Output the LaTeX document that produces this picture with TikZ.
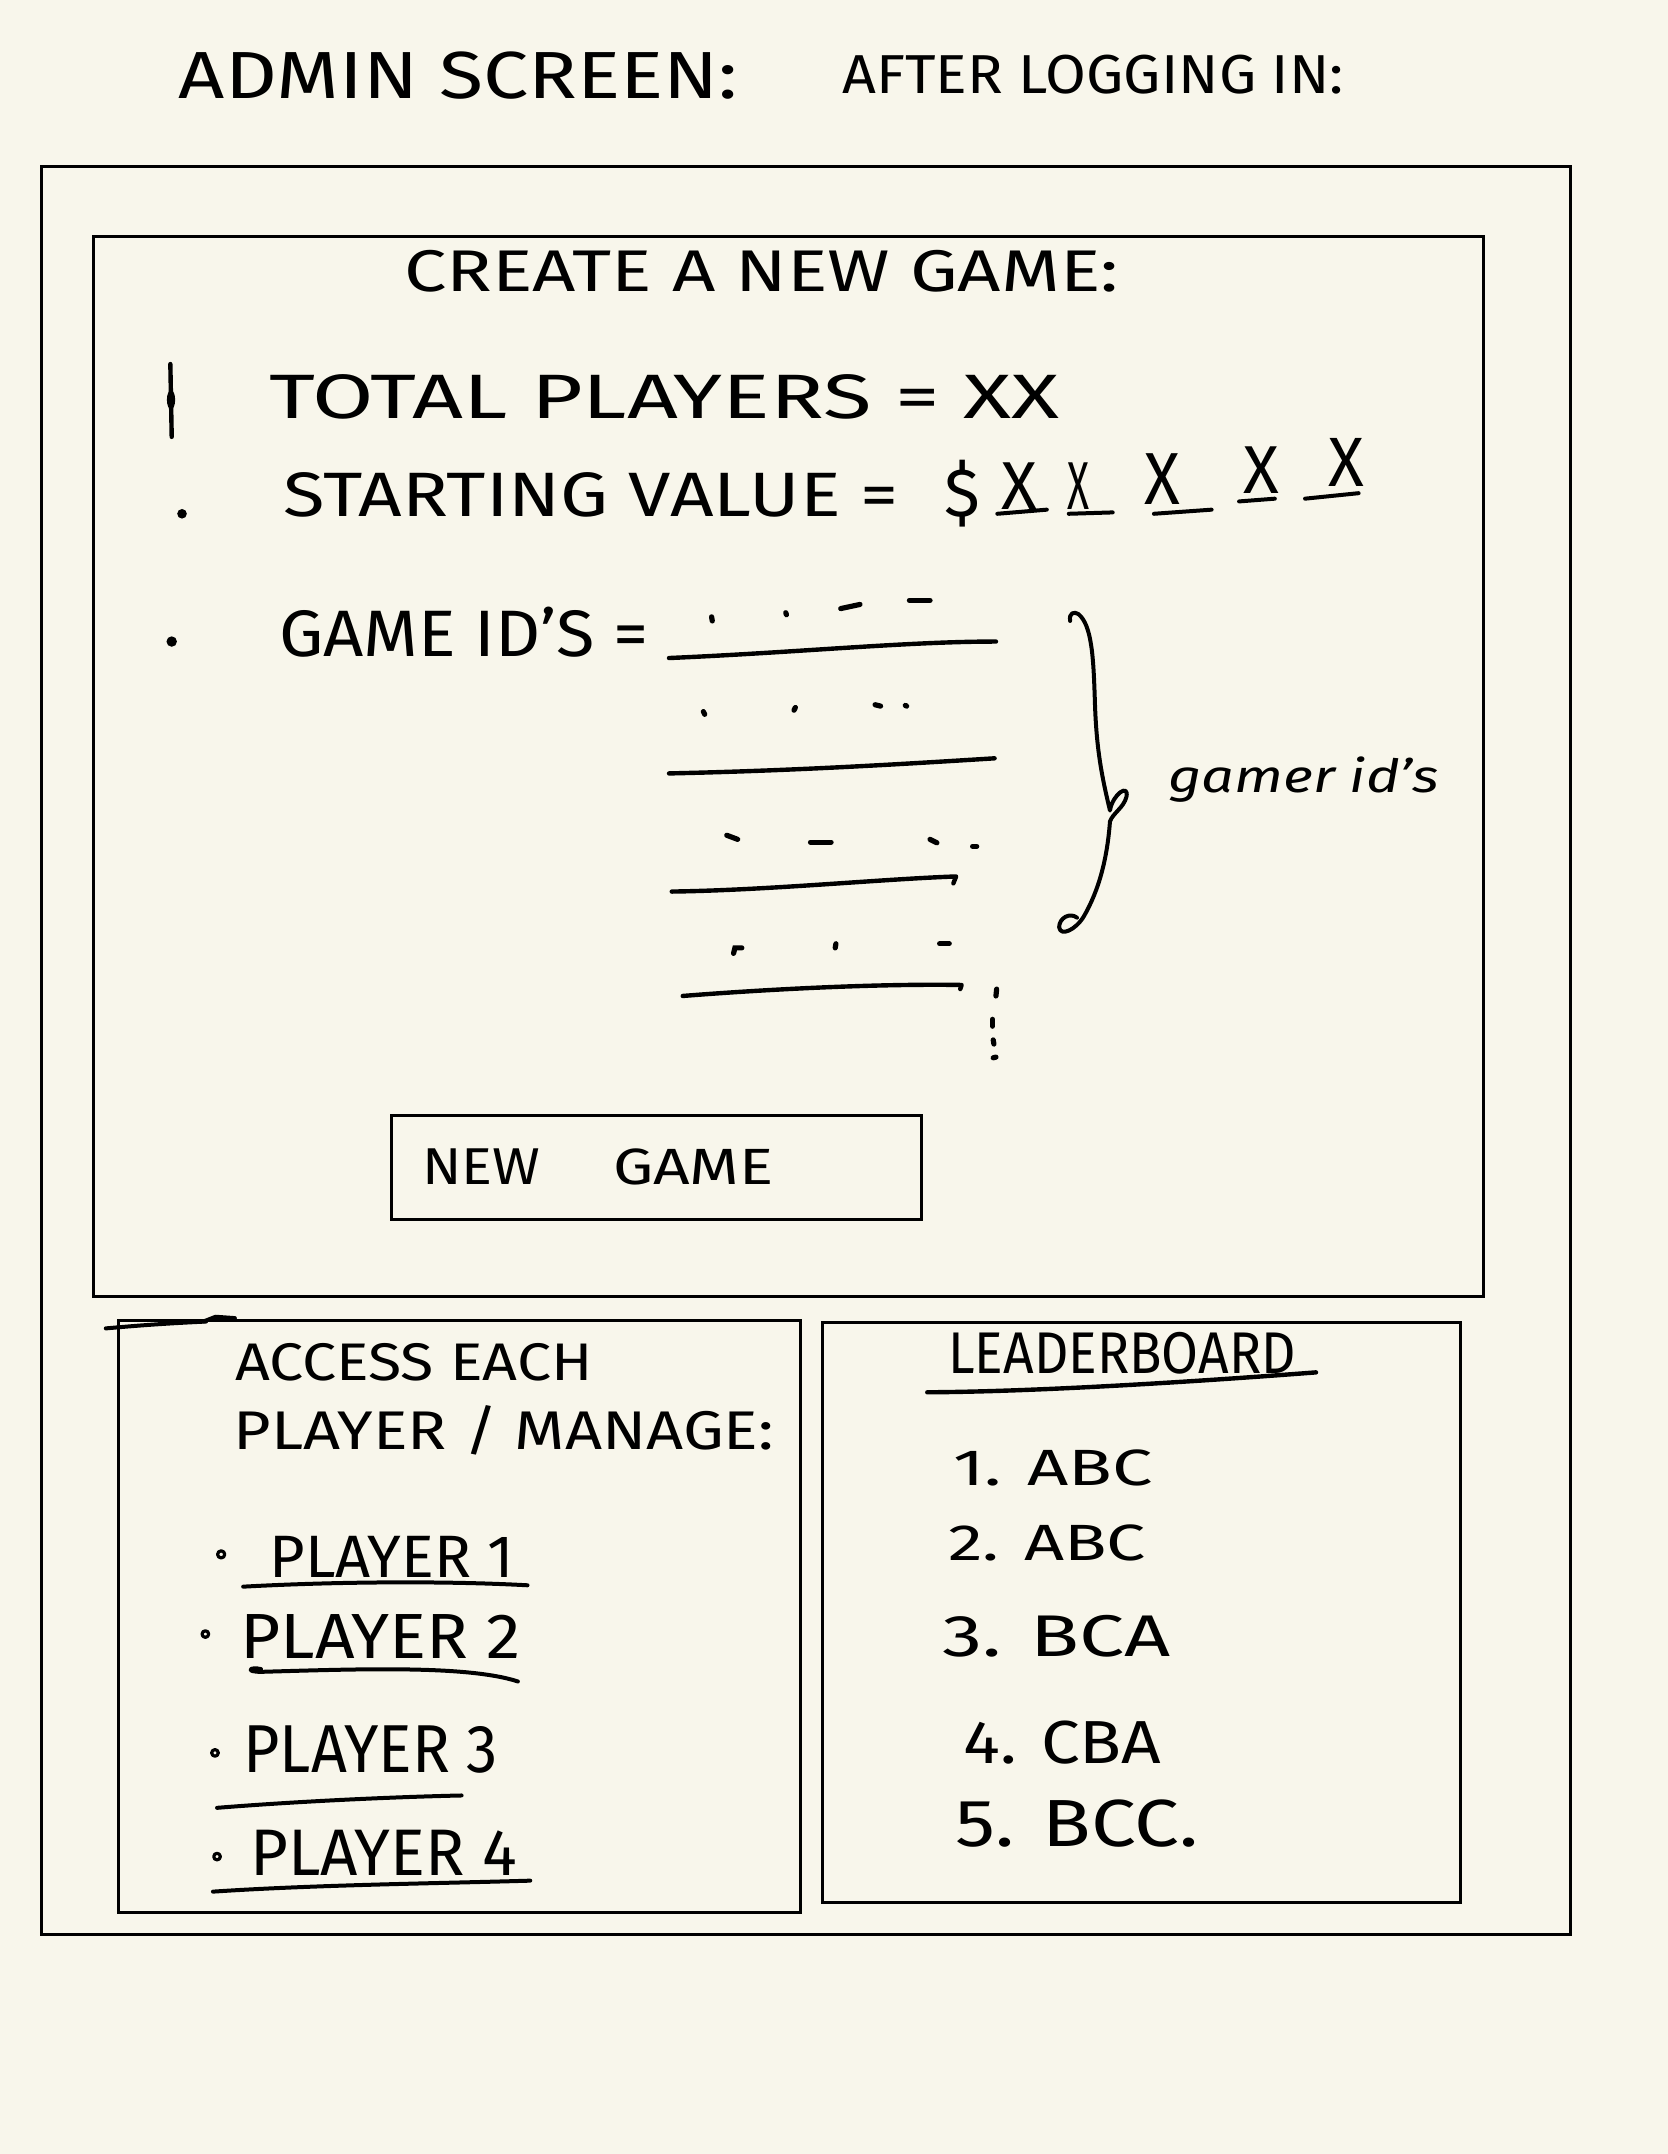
\documentclass[tikz,border=0pt]{standalone}
\usepackage{fontspec}
\setmainfont{Fira Sans}
\usepackage{graphicx}
\newlength\upx \setlength\upx{0.6872pt}
\newcommand\hwt[3]{\resizebox{#1\upx}{#2\upx}{#3}}
\definecolor{paper}{HTML}{F8F6EB}
\begin{document}
\begin{tikzpicture}[x=0.6872pt,y=-0.6872pt,
  box/.style={draw=black, line width=1.5pt},
  ink/.style={draw=black, line width=2pt, line cap=round, line join=round},
  tick/.style={draw=black, line width=2.6pt, line cap=round},
  txt/.style={inner sep=0pt, anchor=base west, text=black}]
\fill[paper] (0,0) rectangle (1214,1568);
\useasboundingbox (0,0) rectangle (1214,1568);

% titles
\node[txt] (admin) at (130,72) {\hwt{407}{34}{ADMIN SCREEN:}};
\node[txt] (after) at (613,68) {\hwt{365}{28}{AFTER LOGGING IN:}};

% boxes
\draw[box] (30,121) rectangle (1143,1408);
\draw[box] (68,172) rectangle (1080,944);
\draw[box] (285,812) rectangle (671,888);
\draw[box] (86,961) rectangle (583,1392);
\draw[box] (599,963) rectangle (1063,1385);

% create a new game
\node[txt] (create) at (294,212) {\hwt{520}{30}{CREATE A NEW GAME:}};

\draw[ink, line width=2.2pt] (124,265) -- (125,318);
\fill (124.5,291) ellipse (3 and 7);
\node[txt] (total) at (196,305) {\hwt{575}{32}{TOTAL PLAYERS = XX}};

\fill (132.5,374) circle (3.5);
\node[txt] (start) at (206,376) {\hwt{448}{32}{STARTING VALUE =}};
\node[txt] (dollar) at (687,376) {\hwt{26}{41}{\$}};
\node[txt] (xa) at (729,371) {\hwt{26}{34}{X}};
\node[txt] (xb) at (777,371) {\hwt{16}{34}{X}};
\node[txt] (xc) at (833,367) {\hwt{26}{37}{X}};
\node[txt] (xd) at (905,359) {\hwt{26}{34}{X}};
\node[txt] (xe) at (967,354) {\hwt{26}{35}{X}};
\draw[ink] (726,374) -- (762,371);
\draw[ink] (778,374) -- (810,373);
\draw[ink] (840,374) -- (882,371);
\draw[ink] (902,365) -- (928,363);
\draw[ink] (950,363) -- (989,359);

\fill (125,467) circle (3.8);
\node[txt] (gameid) at (203,478) {\hwt{269}{36}{GAME ID'S =}};

% id rows
\draw[tick] (518,449) -- (518.5,452);
\draw[tick] (572,446) -- (572.5,447.5);
\draw[tick] (612,443) -- (626,440);
\draw[tick] (662,437) -- (677,437);
\draw[ink, line width=2.2pt] (487,479) .. controls (580,475) and (660,467) .. (725,467);
\draw[tick] (512,518) -- (513,520);
\draw[tick] (579,515) -- (578,517);
\draw[tick] (637,513) -- (641,514);
\draw[tick] (659,513.5) -- (660,514);
\draw[ink, line width=2.2pt] (487,563) .. controls (580,561) and (660,556) .. (724,552);
\draw[tick] (529,608) -- (537,611);
\draw[tick] (590,613) -- (605,613);
\draw[tick] (677,611) -- (682,613.5);
\draw[tick] (708,616) -- (711,616);
\draw[ink, line width=2.2pt] (489,649) .. controls (560,648) and (640,640) .. (696,638) -- (694,643);
\draw[tick] (534,694) -- (535,690) -- (540,690);
\draw[tick] (608.5,687) -- (608,690);
\draw[tick] (684,687) -- (691,687);
\draw[ink, line width=2.2pt] (497,725) .. controls (560,720) and (640,716) .. (700,717) -- (699,720);
\draw[tick] (725.5,720) -- (725,725);
\draw[tick] (722.5,742) -- (722.5,747);
\draw[tick] (723,757) -- (723.5,760);
\draw[tick] (723,770) -- (725,769.5);

% brace
\draw[ink] (779,452) .. controls (778,446) and (782,445) .. (785,447)
  .. controls (795,455) and (796,480) .. (797,510)
  .. controls (798,545) and (802,565) .. (808,590)
  .. controls (810,578) and (822,570) .. (820,580)
  .. controls (818,588) and (810,592) .. (808,598)
  .. controls (806,625) and (800,648) .. (789,667)
  .. controls (783,677) and (772,682) .. (771,675)
  .. controls (771,668) and (779,664) .. (784,668);
\node[txt] (gamer) at (850,577) {\hwt{197}{26}{\itshape gamer id's}};

% new game button
\node[txt] (ng1) at (307,862) {\hwt{86}{26}{NEW}};
\node[txt] (ng2) at (446,862) {\hwt{117}{26}{GAME}};

% access box
\draw[ink] (77,967) .. controls (110,964) and (130,963) .. (150,962);
\draw[ink] (148,962) -- (157,958.5) -- (171,959.5);
\node[txt] (acc1) at (171,1005) {\hwt{260}{27}{ACCESS EACH}};
\node[txt] (acc2) at (170,1055) {\hwt{393}{32}{PLAYER / MANAGE:}};

\draw[ink, line width=1.6pt] (161,1131.5) circle (2.6);
\node[txt] (p1) at (196,1148) {\hwt{178}{30}{PLAYER 1}};
\draw[ink] (177,1155) .. controls (250,1151) and (330,1151) .. (384,1154);
\draw[ink, line width=1.6pt] (149.5,1189.5) circle (2.4);
\node[txt] (p2) at (175,1207) {\hwt{204}{32}{PLAYER 2}};
\draw[ink] (190,1215) .. controls (182,1213) and (178,1217) .. (190,1217)
  .. controls (260,1215) and (340,1212) .. (377,1224);
\draw[ink, line width=1.6pt] (156.5,1276) circle (2.4);
\node[txt] (p3) at (177,1290) {\hwt{185}{34}{PLAYER 3}};
\draw[ink] (158,1316) .. controls (220,1311) and (290,1308) .. (336,1307);
\draw[ink, line width=1.6pt] (158,1351.5) circle (2.4);
\node[txt] (p4) at (182,1365) {\hwt{194}{33}{PLAYER 4}};
\draw[ink] (155,1377) .. controls (230,1372) and (320,1371) .. (386,1369);

% leaderboard
\node[txt] (lb) at (690,1000) {\hwt{253}{30}{LEADERBOARD}};
\draw[ink, line width=2.2pt] (675,1013.5) .. controls (760,1013) and (880,1005) .. (958,999);
\node[txt] (l1) at (694,1081) {\hwt{145}{26}{1. ABC}};
\node[txt] (l2) at (690,1136) {\hwt{144}{26}{2. ABC}};
\node[txt] (l3) at (686,1206) {\hwt{166}{30}{3. BCA}};
\node[txt] (l4) at (701,1284) {\hwt{144}{31}{4. CBA}};
\node[txt] (l5) at (695,1344) {\hwt{177}{34}{5. BCC.}};
\end{tikzpicture}
\end{document}
